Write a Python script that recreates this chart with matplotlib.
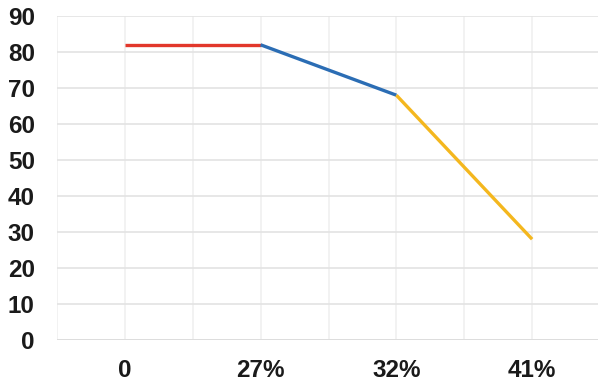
import matplotlib
matplotlib.use('Agg')
import matplotlib.pyplot as plt
import numpy as np

categories = ['0', '27%', '32%', '41%']
values = [82, 82, 68, 28]
seg_colors = ['#E2372B', '#2B6DB4', '#F4B71E']

plt.rcParams['font.family'] = ['Liberation Sans', 'DejaVu Sans']

fig = plt.figure(figsize=(5.98, 3.85), dpi=100)
ax = fig.add_axes([57/598, 1-340/385, 543/598, 324/385])

x = np.arange(len(categories))
for i in range(len(categories)-1):
    ax.plot(x[i:i+2], values[i:i+2], color=seg_colors[i], lw=2.4, solid_capstyle='butt', zorder=3)

ax.set_xlim(-0.5, 3.5)
ax.set_ylim(0, 90)
ax.set_yticks(range(0, 91, 10))
ax.set_xticks(x)
ax.set_xticklabels(categories)
ax.set_xticks(np.arange(-0.5, 3.6, 1.0), minor=True)
ax.grid(axis='y', which='major', color='#e3e3e3', lw=1.2)
ax.grid(axis='x', which='both', color='#f0f0f0', lw=1.2)
ax.set_axisbelow(True)
ax.tick_params(which='both', length=0)
ax.tick_params(axis='y', pad=16)
ax.tick_params(axis='x', pad=14)
for lab in ax.get_xticklabels() + ax.get_yticklabels():
    lab.set_fontsize(17.5)
    lab.set_fontweight('bold')
    lab.set_color('#1a1a1a')
for s in ax.spines.values():
    s.set_visible(False)
ax.axhline(0, color='#dcdcdc', lw=1.2, zorder=1)

fig.savefig('out.png', dpi=100)
